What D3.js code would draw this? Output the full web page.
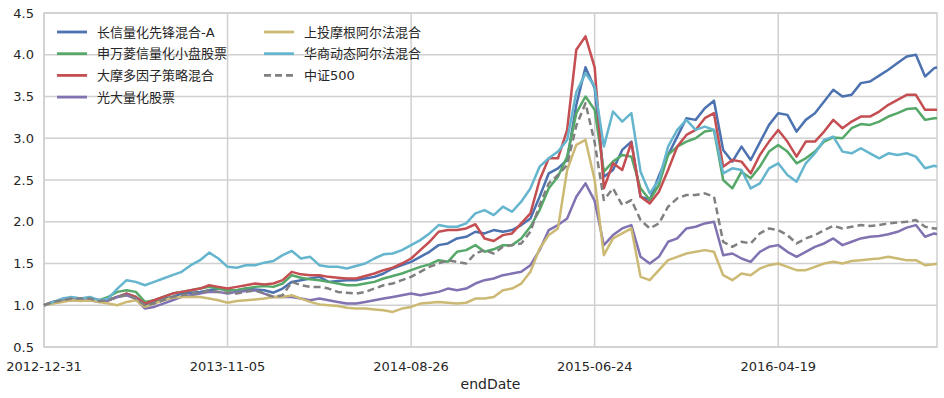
<!DOCTYPE html>
<meta charset="utf-8">
<style>
  body { margin: 0; background: #fff; }
  text { font-family: "DejaVu Sans", "Noto Sans CJK SC", sans-serif; fill: #262626; }
  .grid line { stroke: #d0d0d0; stroke-width: 1.5; }
  .series { fill: none; stroke-width: 2.5; stroke-linejoin: round; }
</style>
<svg width="944" height="398"></svg>
<script src="https://d3js.org/d3.v7.min.js"></script>
<script>
  // trading-day index of every sample (every 10 days, plus the last day)
  var days = d3.range(0, 980, 10).concat([973]);

  var tickDays = [0, 200, 400, 600, 800];
  var tickLabels = ["2012-12-31", "2013-11-05", "2014-08-26", "2015-06-24", "2016-04-19"];
  var yTicks = [0.5, 1.0, 1.5, 2.0, 2.5, 3.0, 3.5, 4.0, 4.5];

  var names = ["长信量化先锋混合-A", "申万菱信量化小盘股票", "大摩多因子策略混合", "光大量化股票",
    "上投摩根阿尔法混合", "华商动态阿尔法混合", "中证500"];
  var colors = ["#4c72b0", "#55a868", "#c44e52", "#8172b2", "#ccb974", "#64b5cd", "#808080"];

  var changxin = [1.00,1.04,1.06,1.08,1.08,1.08,1.06,1.06,1.10,1.14,
    1.10,1.00,1.04,1.08,1.10,1.14,1.15,1.16,1.18,1.20,
    1.18,1.18,1.20,1.19,1.18,1.15,1.20,1.28,1.30,1.32,
    1.34,1.28,1.29,1.30,1.30,1.32,1.34,1.38,1.44,1.48,
    1.52,1.58,1.64,1.72,1.74,1.80,1.82,1.88,1.86,1.90,
    1.88,1.90,1.96,2.04,2.30,2.58,2.64,2.74,3.40,3.85,
    3.60,2.54,2.62,2.86,2.96,2.30,2.26,2.55,2.80,3.02,
    3.24,3.22,3.36,3.45,2.86,2.72,2.90,2.74,2.95,3.16,
    3.30,3.28,3.08,3.22,3.30,3.44,3.58,3.50,3.52,3.66,
    3.68,3.75,3.82,3.90,3.98,4.00,3.74,3.84,3.85];

  var shenwan = [1.00,1.04,1.06,1.08,1.08,1.08,1.06,1.10,1.16,1.18,
    1.16,1.04,1.06,1.10,1.14,1.16,1.18,1.20,1.22,1.20,
    1.18,1.18,1.20,1.22,1.23,1.22,1.26,1.36,1.33,1.31,
    1.30,1.28,1.26,1.24,1.24,1.26,1.28,1.32,1.35,1.38,
    1.42,1.46,1.49,1.54,1.52,1.64,1.66,1.72,1.64,1.67,
    1.72,1.72,1.80,1.94,2.14,2.40,2.54,2.78,3.30,3.50,
    3.34,2.60,2.72,2.80,2.78,2.40,2.26,2.44,2.80,2.90,
    2.96,3.00,3.08,3.10,2.50,2.40,2.60,2.52,2.66,2.84,
    2.92,2.84,2.70,2.76,2.84,2.96,3.01,3.00,3.12,3.17,
    3.16,3.20,3.26,3.30,3.35,3.36,3.22,3.24,3.24];

  var damo = [1.00,1.04,1.06,1.08,1.07,1.08,1.06,1.06,1.10,1.14,
    1.10,1.02,1.06,1.10,1.14,1.16,1.18,1.20,1.24,1.22,
    1.20,1.22,1.24,1.26,1.25,1.26,1.30,1.40,1.37,1.36,
    1.36,1.34,1.33,1.32,1.32,1.35,1.38,1.42,1.45,1.50,
    1.56,1.66,1.76,1.88,1.90,1.90,1.92,1.97,1.80,1.77,
    1.84,1.86,1.98,2.10,2.50,2.76,2.76,3.10,4.06,4.22,
    3.85,2.40,2.70,2.62,2.95,2.30,2.22,2.36,2.62,2.90,
    3.04,3.10,3.24,3.30,2.66,2.74,2.72,2.58,2.80,2.96,
    3.10,2.96,2.78,2.96,2.96,3.08,3.22,3.12,3.20,3.26,
    3.26,3.32,3.40,3.46,3.52,3.52,3.34,3.34,3.34];

  var guangda = [1.00,1.03,1.05,1.06,1.06,1.06,1.04,1.06,1.10,1.12,
    1.08,0.96,0.98,1.02,1.06,1.10,1.12,1.14,1.16,1.16,
    1.14,1.16,1.17,1.18,1.14,1.10,1.10,1.10,1.08,1.06,
    1.08,1.06,1.04,1.02,1.02,1.04,1.06,1.08,1.10,1.12,
    1.14,1.12,1.14,1.16,1.20,1.18,1.20,1.26,1.30,1.32,
    1.36,1.38,1.40,1.48,1.66,1.90,1.96,2.04,2.30,2.46,
    2.25,1.72,1.84,1.92,1.96,1.58,1.50,1.58,1.76,1.80,
    1.92,1.94,1.98,2.00,1.60,1.62,1.56,1.52,1.64,1.70,
    1.72,1.64,1.58,1.64,1.70,1.74,1.80,1.72,1.76,1.80,
    1.82,1.83,1.85,1.88,1.93,1.96,1.82,1.86,1.85];

  var shangtou = [1.00,1.02,1.04,1.06,1.05,1.06,1.04,1.02,1.00,1.04,
    1.06,0.98,1.02,1.06,1.09,1.10,1.10,1.10,1.08,1.06,
    1.03,1.05,1.06,1.07,1.08,1.10,1.10,1.12,1.08,1.04,
    1.01,1.00,0.99,0.97,0.96,0.96,0.95,0.94,0.92,0.96,
    0.98,1.02,1.03,1.04,1.03,1.02,1.03,1.08,1.08,1.10,
    1.18,1.20,1.26,1.40,1.68,1.84,1.92,2.62,2.92,2.98,
    2.50,1.60,1.80,1.86,1.92,1.34,1.30,1.42,1.54,1.58,
    1.62,1.64,1.66,1.64,1.36,1.30,1.38,1.36,1.44,1.48,
    1.50,1.46,1.42,1.42,1.46,1.50,1.52,1.50,1.53,1.54,
    1.55,1.56,1.58,1.56,1.54,1.54,1.48,1.49,1.50];

  var huashang = [1.00,1.04,1.08,1.10,1.08,1.10,1.06,1.08,1.20,1.30,
    1.28,1.24,1.28,1.32,1.36,1.40,1.48,1.54,1.63,1.56,
    1.46,1.45,1.48,1.48,1.51,1.53,1.60,1.65,1.56,1.58,
    1.48,1.46,1.46,1.44,1.47,1.50,1.56,1.61,1.62,1.66,
    1.72,1.78,1.86,1.96,1.94,1.94,1.98,2.10,2.14,2.08,
    2.18,2.12,2.24,2.40,2.66,2.76,2.84,2.98,3.55,3.78,
    3.62,2.90,3.32,3.20,3.30,2.60,2.34,2.50,2.90,3.10,
    3.22,3.10,3.14,3.10,2.58,2.64,2.62,2.40,2.46,2.64,
    2.70,2.56,2.48,2.70,2.82,2.98,3.02,2.84,2.82,2.88,
    2.82,2.76,2.82,2.80,2.82,2.78,2.64,2.67,2.66];

  var zz500 = [1.00,1.04,1.06,1.08,1.08,1.08,1.05,1.06,1.10,1.12,
    1.08,1.00,1.02,1.06,1.10,1.12,1.14,1.15,1.18,1.16,
    1.15,1.14,1.16,1.18,1.14,1.10,1.12,1.28,1.24,1.22,
    1.22,1.20,1.16,1.15,1.14,1.16,1.20,1.24,1.26,1.30,
    1.34,1.40,1.46,1.50,1.54,1.52,1.50,1.62,1.66,1.62,
    1.70,1.72,1.74,1.88,2.20,2.46,2.56,2.68,3.15,3.42,
    2.95,2.26,2.40,2.20,2.26,2.02,1.92,1.98,2.18,2.28,
    2.32,2.32,2.34,2.30,1.76,1.70,1.76,1.74,1.86,1.92,
    1.90,1.84,1.74,1.80,1.84,1.90,1.95,1.92,1.94,1.96,
    1.95,1.96,1.98,1.99,2.00,2.02,1.94,1.92,1.92];

  var series = [changxin, shenwan, damo, guangda, shangtou, huashang, zz500];

  var svg = d3.select("svg"),
    margin = {top: 13, right: 7, bottom: 51, left: 44},
    width = +svg.attr("width") - margin.left - margin.right,
    height = +svg.attr("height") - margin.top - margin.bottom;

  var x = d3.scaleLinear().domain([0, 973]).range([0, width]),
    y = d3.scaleLinear().domain([0.5, 4.5]).range([height, 0]);

  var g = svg.append("g")
    .attr("transform", "translate(" + margin.left + "," + margin.top + ")");

  // grid
  var grid = g.append("g").attr("class", "grid");
  grid.selectAll(".h").data(yTicks).enter().append("line")
    .attr("x1", 0).attr("x2", width)
    .attr("y1", function(d) { return y(d); }).attr("y2", function(d) { return y(d); });
  grid.selectAll(".v").data(tickDays).enter().append("line")
    .attr("y1", 0).attr("y2", height)
    .attr("x1", function(d) { return x(d); }).attr("x2", function(d) { return x(d); });

  // frame
  g.append("rect")
    .attr("width", width).attr("height", height)
    .attr("fill", "none").attr("stroke", "#d0d0d0").attr("stroke-width", 1.5);

  // tick labels
  g.selectAll(".ylab").data(yTicks).enter().append("text")
    .attr("x", -10).attr("y", function(d) { return y(d); })
    .attr("dy", "0.35em").attr("text-anchor", "end").style("font-size", "13px")
    .text(function(d) { return d.toFixed(1); });

  g.selectAll(".xlab").data(tickDays).enter().append("text")
    .attr("x", function(d) { return x(d); }).attr("y", height + 24)
    .attr("text-anchor", "middle").style("font-size", "13px")
    .text(function(d, i) { return tickLabels[i]; });

  g.append("text")
    .attr("x", width / 2).attr("y", height + 42)
    .attr("text-anchor", "middle").style("font-size", "14px")
    .text("endDate");

  // lines
  series.forEach(function(vals, k) {
    var line = d3.line()
      .x(function(d, i) { return x(days[i]); })
      .y(function(d) { return y(d); });
    g.append("path")
      .datum(vals)
      .attr("class", "series")
      .attr("stroke", colors[k])
      .attr("stroke-dasharray", k === 6 ? "7,4" : null)
      .attr("d", line);
  });

  // legend, two columns
  var legend = svg.append("g");
  names.forEach(function(name, k) {
    var col = k < 4 ? 0 : 1,
      row = k < 4 ? k : k - 4;
    var lx = col === 0 ? 57 : 264,
      ly = 32 + row * 21.7;
    legend.append("line")
      .attr("x1", lx).attr("x2", lx + 30)
      .attr("y1", ly).attr("y2", ly)
      .attr("stroke", colors[k]).attr("stroke-width", 2.8)
      .attr("stroke-dasharray", k === 6 ? "7,4" : null);
    legend.append("text")
      .attr("x", lx + 40).attr("y", ly).attr("dy", "0.36em")
      .style("font-size", "13px")
      .text(name);
  });
</script>
